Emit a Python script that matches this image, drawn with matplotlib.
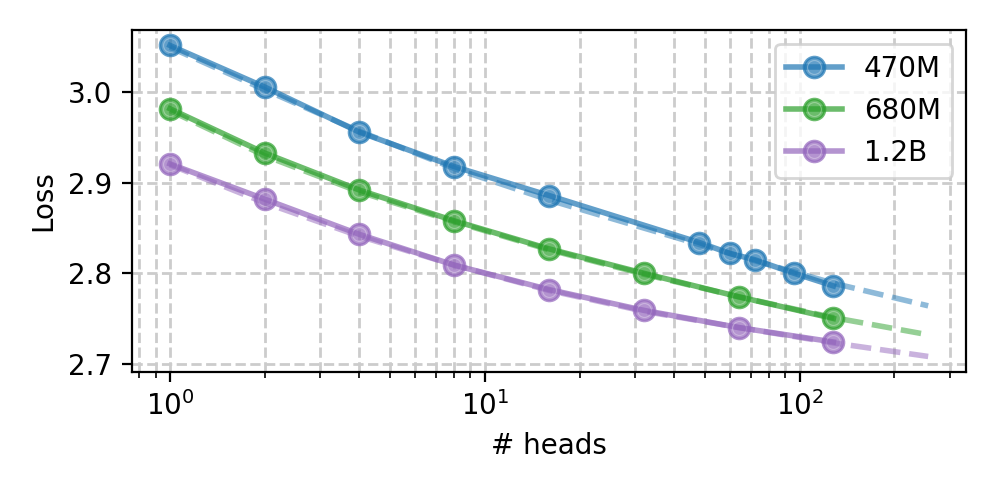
import matplotlib.pyplot as plt
import numpy as np

# measured points
heads_470m = [1, 2, 4, 8, 16, 48, 60, 72, 96, 128]
loss_470m = [3.052, 3.006, 2.956, 2.918, 2.886, 2.834, 2.822, 2.815, 2.800, 2.786]

heads_680m = [1, 2, 4, 8, 16, 32, 64, 128]
loss_680m = [2.982, 2.933, 2.892, 2.858, 2.827, 2.800, 2.774, 2.750]

heads_1b2 = [1, 2, 4, 8, 16, 32, 64, 128]
loss_1b2 = [2.921, 2.882, 2.843, 2.809, 2.782, 2.759, 2.740, 2.724]

# fitted curves
fit_heads = [1, 2, 4, 8, 16, 32, 64, 128, 256]
fit_470m = [3.050, 3.003, 2.957, 2.916, 2.881, 2.850, 2.819, 2.789, 2.764]
fit_680m = [2.980, 2.930, 2.890, 2.857, 2.826, 2.799, 2.774, 2.751, 2.732]
fit_1b2 = [2.920, 2.878, 2.841, 2.809, 2.781, 2.758, 2.740, 2.723, 2.708]


def main():
    fig, ax = plt.subplots(figsize=(4.985, 2.49), dpi=200)
    fig.subplots_adjust(left=0.1324, right=0.969, top=0.94, bottom=0.253)

    series = [
        ("470M", "tab:blue", heads_470m, loss_470m, fit_470m),
        ("680M", "tab:green", heads_680m, loss_680m, fit_680m),
        ("1.2B", "tab:purple", heads_1b2, loss_1b2, fit_1b2),
    ]
    handles, labels = [], []
    for label, color, x, y, fit in series:
        line, = ax.plot(x, y, "-o", color=color, alpha=0.7, lw=2, ms=7.5)
        ring, = ax.plot(x, y, "o", ms=5, mfc="none", mec="white",
                        mew=0.4, alpha=0.3)
        ax.plot(fit_heads, fit, "--", color=color, alpha=0.5, lw=2)
        handles.append((line, ring))
        labels.append(label)

    ax.set_xscale("log")
    ax.grid(True, which="both", linestyle="--", color="#cccccc", lw=1)
    ax.set(xlabel="# heads", ylabel="Loss")
    ax.legend(handles, labels, loc="upper right")

    plt.savefig("out.png", dpi=200)


if __name__ == "__main__":
    main()
